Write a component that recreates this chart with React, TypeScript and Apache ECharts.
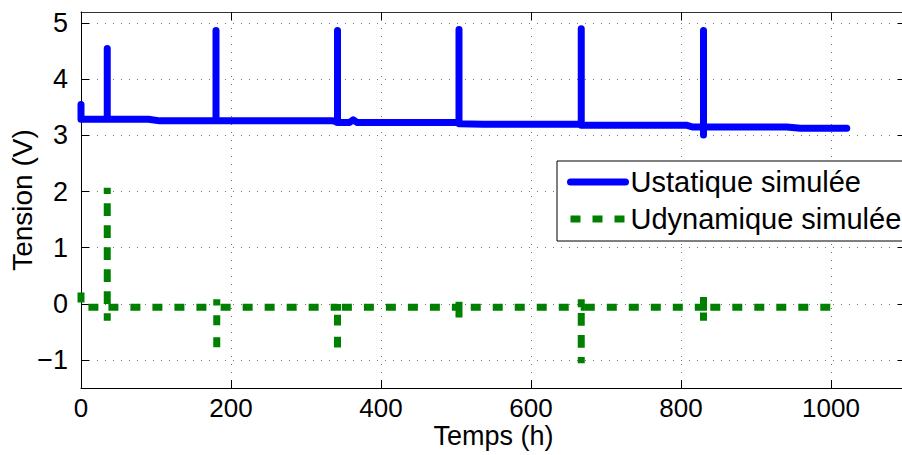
import React, { useEffect, useRef } from "react";
import * as echarts from "echarts";

// Ustatique simulée (hours, volts)
const ustatiqueT = [0, 0, 35, 35, 35, 90, 105, 180, 180, 180, 336, 342, 342, 342, 358, 363, 368, 501, 504, 504, 504, 536, 667, 667, 667, 679, 808, 816, 830, 830, 830, 830, 941, 959, 1021];
const ustatiqueV = [3.55, 3.29, 3.29, 4.55, 3.29, 3.29, 3.26, 3.26, 4.87, 3.26, 3.26, 3.24, 4.87, 3.23, 3.23, 3.28, 3.23, 3.23, 3.23, 4.89, 3.21, 3.2, 3.2, 4.9, 3.18, 3.18, 3.18, 3.15, 3.15, 4.87, 3.01, 3.15, 3.15, 3.13, 3.13];

// Udynamique simulée (hours, volts)
const udynamiqueT = [0, 0, 35, 35, 35, 35, 181, 181, 181, 181, 342, 342, 342, 342, 504, 504, 504, 504, 667, 667, 667, 667, 830, 830, 830, 830, 1014];
const udynamiqueV = [0.2, -0.06, -0.06, 2.07, -0.3, -0.06, -0.06, 0.08, -0.88, -0.06, -0.06, 0.0, -0.88, -0.06, -0.06, 0.12, -0.3, -0.06, -0.06, 0.08, -1.06, -0.06, -0.06, 0.15, -0.3, -0.06, -0.06];

const xTicks = [0, 200, 400, 600, 800, 1000];
const yTicks = [-1, 0, 1, 2, 3, 4, 5];

const seriesNames = ["Ustatique simulée", "Udynamique simulée"];

const FONT = "'Liberation Sans', Arial, Helvetica, sans-serif";

export default function App() {
  const ref = useRef<HTMLDivElement>(null);
  useEffect(() => {
    document.body.style.margin = "0";
    const chart = echarts.init(ref.current!, null, { renderer: "svg" });
    const zip = (t: number[], v: number[]) => t.map((x, i) => [x, v[i]]);
    const gridLine = { show: true, lineStyle: { color: "#777", width: 1, type: [1, 7] } };
    const axisLine = { show: true, onZero: false, lineStyle: { color: "#000", width: 1 } };
    const tick = (vals: number[]) => ({ show: true, inside: true, length: 8, customValues: vals, lineStyle: { color: "#000", width: 1 } });
    chart.setOption({
      animation: false,
      backgroundColor: "#fff",
      textStyle: { fontFamily: FONT },
      grid: { left: 81, right: -4, top: 12, bottom: 67, containLabel: false, outerBoundsMode: "none" },
      legend: {
        orient: "vertical",
        left: 557,
        top: 161,
        padding: [6, 20, 7, 10],
        itemGap: 7,
        itemWidth: 55,
        itemHeight: 14,
        backgroundColor: "#fff",
        borderColor: "#000",
        borderWidth: 1,
        itemStyle: { color: "rgba(0,0,0,0)", borderWidth: 0, opacity: 0 },
        lineStyle: { width: 7 },
        textStyle: { fontSize: 29, color: "#000", lineHeight: 30, fontFamily: FONT },
        data: seriesNames,
      },
      xAxis: [
        {
          type: "value", min: 0, max: 1100, position: "bottom",
          name: "Temps (h)", nameLocation: "middle", nameGap: 36, nameMoveOverlap: false,
          nameTextStyle: { fontSize: 27, lineHeight: 24, color: "#000", fontFamily: FONT },
          axisLine, axisTick: tick(xTicks),
          axisLabel: { customValues: xTicks, fontSize: 26, lineHeight: 22, color: "#000", margin: 9, fontFamily: FONT, formatter: (v: number) => String(v) },
          splitLine: gridLine,
        },
        {
          type: "value", min: 0, max: 1100, position: "top",
          axisLine: { ...axisLine, lineStyle: { color: "#333", width: 1 } }, axisTick: tick(xTicks),
          axisLabel: { show: false }, splitLine: { show: false },
        },
      ],
      yAxis: [
        {
          type: "value", min: -1.5, max: 5.2, position: "left",
          name: "Tension (V)", nameLocation: "middle", nameGap: 45, nameMoveOverlap: false,
          nameTextStyle: { fontSize: 28, color: "#000", fontFamily: FONT },
          axisLine, axisTick: tick(yTicks),
          axisLabel: {
            customValues: yTicks, fontSize: 27, color: "#000", margin: 13, fontFamily: FONT,
            formatter: (v: number) => String(v).replace("-", "\u2212"),
          },
          splitLine: gridLine,
        },
        {
          type: "value", min: -1.5, max: 5.2, position: "right",
          axisLine, axisTick: tick(yTicks),
          axisLabel: { show: false }, splitLine: { show: false },
        },
      ],
      series: [
        {
          name: seriesNames[0], type: "line", data: zip(ustatiqueT, ustatiqueV),
          showSymbol: false, symbol: "none",
          lineStyle: { color: "#0000ff", width: 7, cap: "round", join: "round" },
          itemStyle: { color: "#0000ff" },
        },
        {
          name: seriesNames[1], type: "line", data: zip(udynamiqueT, udynamiqueV),
          showSymbol: false, symbol: "none",
          lineStyle: { color: "#008000", width: 7, type: [10, 12], cap: "butt", join: "miter" },
          itemStyle: { color: "#008000" },
        },
      ],
    });
    return () => chart.dispose();
  }, []);
  return <div ref={ref} style={{ width: 902, height: 455 }} />;
}
